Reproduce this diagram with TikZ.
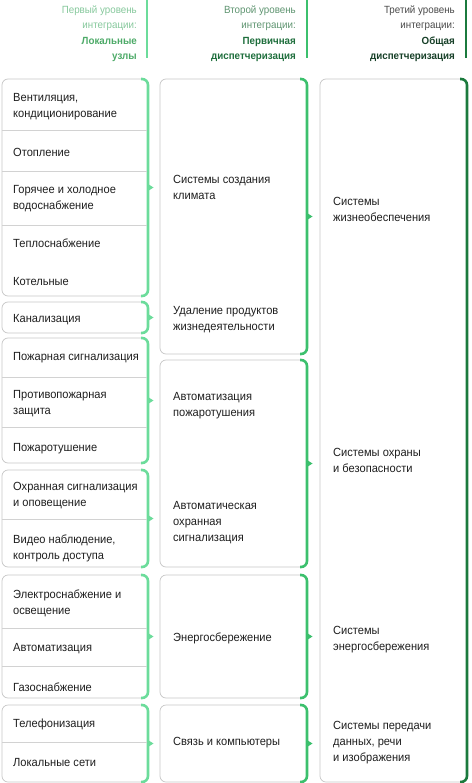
\documentclass[tikz,border=0pt]{standalone}
\usepackage{fontspec}
\setmainfont{Liberation Sans}[FakeStretch=0.94]
\usetikzlibrary{positioning}
\definecolor{lvlone}{HTML}{6CDC9B}
\definecolor{lvltwo}{HTML}{3CC06D}
\definecolor{lvlthree}{HTML}{1B7A3D}
\definecolor{headone}{HTML}{86C89C}
\definecolor{headonebold}{HTML}{4DAA68}
\definecolor{headtwo}{HTML}{5E9470}
\definecolor{headtwobold}{HTML}{1E6E3C}
\definecolor{headthree}{HTML}{4A4A4A}
\definecolor{headthreebold}{HTML}{163F27}
\definecolor{itemtext}{HTML}{1E1E1E}
\tikzset{
	boxline/.style={draw=gray!45, line width=0.7pt, rounded corners=6pt},
	sepline/.style={draw=gray!35, line width=0.6pt},
	bracket/.style={draw=#1, line width=2.6pt, rounded corners=6pt},
	item/.style={anchor=west, inner sep=0pt, align=left, text=itemtext,
		font=\fontsize{11.8}{16}\selectfont, yshift=-1.5pt},
	head/.style={anchor=north east, inner sep=0pt, align=right,
		font=\fontsize{10.4}{15.5}\selectfont},
	headline/.style={draw=#1, line width=2.6pt}
}
% box with a bracket on its right edge and a notch in the middle
\newcommand{\levelbox}[5]{%
	\draw[boxline] (#1,#2) rectangle (#3,#4);
	\draw[bracket=#5] (#3-7,#2) -- (#3,#2) -- (#3,#4) -- (#3-7,#4);
	\fill[#5] (#3,{(#2+#4)/2-3.5}) -- (#3+5.5,{(#2+#4)/2}) -- (#3,{(#2+#4)/2+3.5}) -- cycle;
}

\begin{document}
\begin{tikzpicture}[x=1pt, y=-1pt]
	\useasboundingbox (0,0) rectangle (471,783);

	% headers
	\draw[headline=lvlone] (147,0) -- (147,58);
	\draw[headline=lvltwo] (307,0) -- (307,58);
	\draw[headline=lvlthree] (466,0) -- (466,58);
	\node[head, text=headone] (headA) at (137,5.5)
		{Первый уровень\\интеграции:\\\textcolor{headonebold}{\bfseries Локальные}\\\textcolor{headonebold}{\bfseries узлы}};
	\node[head, text=headtwo] (headB) at (296,5.5)
		{Второй уровень\\интеграции:\\\textcolor{headtwobold}{\bfseries Первичная}\\\textcolor{headtwobold}{\bfseries диспетчеризация}};
	\node[head, text=headthree] (headC) at (455,5.5)
		{Третий уровень\\интеграции:\\\textcolor{headthreebold}{\bfseries Общая}\\\textcolor{headthreebold}{\bfseries диспетчеризация}};

	% first level
	\levelbox{2}{79}{148}{296}{lvlone}
	\levelbox{2}{302}{148}{333}{lvlone}
	\levelbox{2}{338}{148}{463}{lvlone}
	\levelbox{2}{470}{148}{567}{lvlone}
	\levelbox{2}{575}{148}{698}{lvlone}
	\levelbox{2}{705}{148}{782}{lvlone}
	\foreach \y in {130, 171, 225, 377, 427, 519, 628, 666, 742}
		\draw[sepline] (2,\y) -- (147,\y);

	\node[item] (vent) at (13,105) {Вентиляция,\\кондиционирование};
	\node[item] (otop) at (13,151) {Отопление};
	\node[item] (voda) at (13,197) {Горячее и холодное\\водоснабжение};
	\node[item] (teplo) at (13,242) {Теплоснабжение};
	\node[item] (kotel) at (13,280) {Котельные};
	\node[item] (kanal) at (13,318) {Канализация};
	\node[item] (pozhsig) at (13,356) {Пожарная сигнализация};
	\node[item] (protiv) at (13,402) {Противопожарная\\защита};
	\node[item] (pozhtush) at (13,447) {Пожаротушение};
	\node[item] (ohran) at (13,494) {Охранная сигнализация\\и оповещение};
	\node[item] (video) at (13,547) {Видео наблюдение,\\контроль доступа};
	\node[item] (elektro) at (13,602) {Электроснабжение и\\освещение};
	\node[item] (avtom) at (13,647) {Автоматизация};
	\node[item] (gaz) at (13,686) {Газоснабжение};
	\node[item] (telef) at (13,723) {Телефонизация};
	\node[item] (lokal) at (13,761) {Локальные сети};

	% second level
	\levelbox{160}{79}{307}{354}{lvltwo}
	\levelbox{160}{360}{307}{567}{lvltwo}
	\levelbox{160}{575}{307}{698}{lvltwo}
	\levelbox{160}{705}{307}{782}{lvltwo}

	\node[item] (klimat) at (173,186) {Системы создания\\климата};
	\node[item] (udal) at (173,318) {Удаление продуктов\\жизнедеятельности};
	\node[item] (avtpozh) at (173,404) {Автоматизация\\пожаротушения};
	\node[item] (avtohr) at (173,521) {Автоматическая\\охранная\\сигнализация};
	\node[item] (energo) at (173,637) {Энергосбережение};
	\node[item] (svyaz) at (173,741) {Связь и компьютеры};

	% third level
	\draw[boxline] (320,79) rectangle (467,782);
	\draw[bracket=lvlthree] (460,79) -- (467,79) -- (467,782) -- (460,782);

	\node[item] (zhizn) at (333,208) {Системы\\жизнеобеспечения};
	\node[item] (ohrana) at (333,459) {Системы охраны\\и безопасности};
	\node[item] (sisenergo) at (333,638) {Системы\\энергосбережения};
	\node[item] (peredacha) at (333,741) {Системы передачи\\данных, речи\\и изображения};
\end{tikzpicture}
\end{document}
